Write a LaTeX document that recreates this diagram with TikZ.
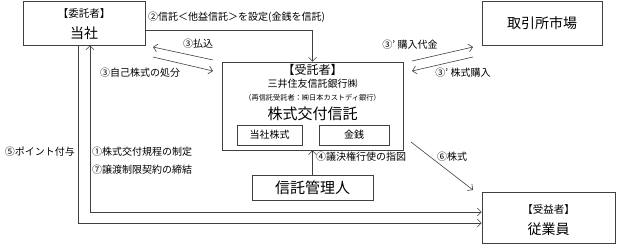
\documentclass[tikz,border=0pt]{standalone}
\usepackage{fontspec}
\setmainfont{Noto Sans CJK JP}
\usetikzlibrary{arrows.meta,calc}
\tikzset{
  box/.style={draw=black!75,line width=0.6pt,inner sep=0pt},
  arr/.style={draw=black!75,line width=0.6pt,-{Straight Barb[length=4pt,width=8pt]}},
  lbl/.style={font=\fontsize{10}{12}\selectfont,inner sep=0pt}
}

\begin{document}
\begin{tikzpicture}[x=1pt,y=-1pt]
	\useasboundingbox (0,0) rectangle (618,245);

	% boxes
	\node[box,minimum width=122pt,minimum height=44pt](itaku) at (84,23){};
	\node[box,minimum width=120pt,minimum height=44pt](market) at (542,23){\fontsize{14}{16}\selectfont 取引所市場};
	\node[box,minimum width=181pt,minimum height=88pt](trustee) at (312.5,106){};
	\node[box,minimum width=65pt,minimum height=20pt](kabu) at (269.5,135){\fontsize{10}{12}\selectfont 当社株式};
	\node[box,minimum width=70pt,minimum height=20pt](kinsen) at (354,135){\fontsize{10}{12}\selectfont 金銭};
	\node[box,minimum width=121pt,minimum height=25pt](kanri) at (312.5,187.5){\fontsize{15}{17}\selectfont 信託管理人};
	\node[box,minimum width=133pt,minimum height=51pt](jugyoin) at (548.5,217.5){};

	% texts in boxes
	\node(itakuT) at (84,14){\fontsize{10.5}{12}\selectfont 【委託者】};
	\node(itakuN) at (84,33){\fontsize{14}{16}\selectfont 当社};
	\node(jutakuT) at (312.5,70){\fontsize{12}{14}\selectfont 【受託者】};
	\node(jutakuN) at (312.5,84){\fontsize{10}{12}\selectfont 三井住友信託銀行㈱};
	\node(saiN) at (312.5,98){\fontsize{7.2}{9}\selectfont （再信託受託者：㈱日本カストディ銀行）};
	\node(shintaku) at (312.5,114){\fontsize{15}{17}\selectfont 株式交付信託};
	\node(jueki) at (548.5,210){\fontsize{10.5}{12}\selectfont 【受益者】};
	\node(jugyoinN) at (548.5,229){\fontsize{14}{16}\selectfont 従業員};

	% free ends
	\coordinate(pay0) at (213,60);
	\coordinate(pay1) at (153,47);
	\coordinate(disp0) at (153,57);
	\coordinate(disp1) at (213,71);
	\coordinate(buy0) at (412,61);
	\coordinate(buy1) at (473,47);
	\coordinate(stk0) at (473,57);
	\coordinate(stk1) at (412,71);
	\coordinate(give0) at (411,142);
	\coordinate(give1) at (473,190);
	\coordinate(outer) at (78,223);
	\coordinate(inner) at (90,212);

	% connectors
	\draw[arr] ([yshift=-7pt]itaku.east) -| (trustee.north);
	\draw[arr] (pay0) -- (pay1);
	\draw[arr] (disp0) -- (disp1);
	\draw[arr] (buy0) -- (buy1);
	\draw[arr] (stk0) -- (stk1);
	\draw[arr] (give0) -- (give1);
	\draw[arr] (kanri.north) -- (trustee.south);
	\draw[arr] (outer |- itaku.south) -- (outer) -- (outer -| jugyoin.west);
	\draw[arr,{Straight Barb[length=4pt,width=8pt]}-{Straight Barb[length=4pt,width=8pt]}] (inner |- itaku.south) -- (inner) -- (inner -| jugyoin.west);

	% labels
	\node[lbl,anchor=west](l2) at (148,17){②信託＜他益信託＞を設定(金銭を信託)};
	\node[lbl](l3a) at (198,44){③払込};
	\node[lbl](l3b) at (140,73){③自己株式の処分};
	\node[lbl](l3c) at (410,45){③’ 購入代金};
	\node[lbl](l3d) at (463,73){③’ 株式購入};
	\node[lbl,anchor=west](l4) at (316,157){④議決権行使の指図};
	\node[lbl](l6) at (452,157){⑥株式};
	\node[lbl,anchor=east](l5) at (75,152){⑤ポイント付与};
	\node[lbl,anchor=west](l1) at (92,152){①株式交付規程の制定};
	\node[lbl,anchor=west](l7) at (92,170){⑦譲渡制限契約の締結};
\end{tikzpicture}
\end{document}
